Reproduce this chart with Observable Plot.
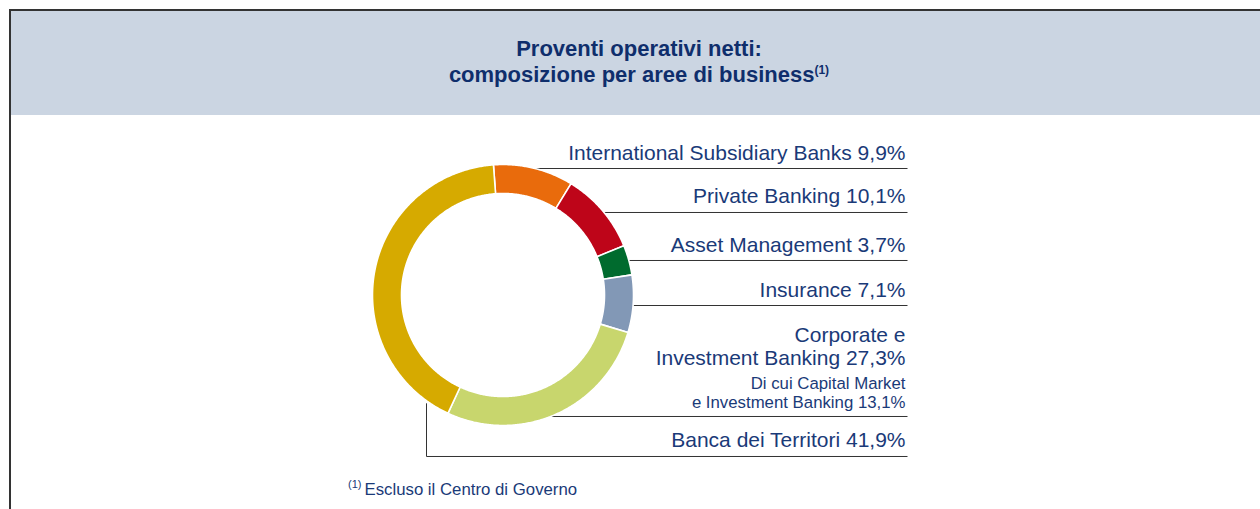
<!DOCTYPE html>
<html>
<head>
<meta charset="utf-8">
<script src="https://cdn.jsdelivr.net/npm/d3@7"></script>
<script src="https://cdn.jsdelivr.net/npm/@observablehq/plot@0.6"></script>
<style>
  body { margin: 0; background: #fff; font-family: "Liberation Sans", Arial, sans-serif; }
  #page { position: relative; width: 1260px; height: 509px; overflow: hidden; background: #fff; }
  #frame { position: absolute; left: 9px; top: 9px; width: 1400px; height: 700px;
           border-left: 2px solid #333; border-top: 2px solid #333; }
  #header { position: absolute; left: 11px; top: 11px; width: 1256px; height: 104px;
            background: #cbd5e2; color: #0f2e6c; font-weight: bold; font-size: 22px;
            text-align: center; line-height: 26.6px; padding-top: 24.8px; box-sizing: border-box; }
  #header sup { font-size: 12px; vertical-align: baseline; position: relative; top: -8px; }
  #chart { position: absolute; left: 0; top: 115px; }
  #note { position: absolute; left: 348px; top: 480px; font-size: 16.8px; line-height: 20px; color: #1a3a78; white-space: nowrap; }
  #note sup { font-size: 11px; vertical-align: baseline; position: relative; top: -7px; margin-right: 3px; }
</style>
</head>
<body>
<div id="page">
  <div id="frame"></div>
  <div id="header">
    <div>Proventi operativi netti:</div>
    <div>composizione per aree di business<sup>(1)</sup></div>
  </div>
  <div id="chart"></div>
  <div id="note"><sup>(1)</sup>Escluso il Centro di Governo</div>
</div>
<script>
// ---- data ----
const segments = [
  "International Subsidiary Banks",
  "Private Banking",
  "Asset Management",
  "Insurance",
  "Corporate e\nInvestment Banking",
  "Banca dei Territori"
];
const shares = [9.9, 10.1, 3.7, 7.1, 27.3, 41.9];
const shareLabels = ["9,9%", "10,1%", "3,7%", "7,1%", "27,3%", "41,9%"];
const subNote = "Di cui Capital Market\ne Investment Banking 13,1%";

// ---- styles / layout ----
const palette = ["#e96b0c", "#be0519", "#006b2e", "#8298b6", "#c8d66d", "#d6aa00"];
const textColor = "#1a3a78";
const unit = 130.5;                 // px per unit radius
const innerR = 101.5 / 130.5;       // inner radius (outer = 1)
const startDeg = -4.2;              // start angle, clockwise from 12 o'clock
const W = 1260, H = 394;
const cx = 502.5, cy = 179.5;       // donut centre in svg px
const rowY = [0.9693, 0.6322, 0.2644, -0.0805, -0.9310, -1.2375]; // leader rows (unit coords)
const rowLift = [8.5, 9.2, 8.4, 8.4, 51, 9.3];                  // px from leader row up to last baseline
const subLift = 8.7;
const textX = (905 - cx) / unit;
const lineEndX = (907 - cx) / unit;
const lastElbowX = (426 - cx) / unit;
const lastElbowTop = -0.83;

// ---- derived ----
const total = d3.sum(shares);
const cum = d3.cumsum(shares);
const arcs = shares.map((v, i) => {
  const a0 = (startDeg + ((cum[i] - v) / total) * 360) * Math.PI / 180;
  const a1 = (startDeg + (cum[i] / total) * 360) * Math.PI / 180;
  const n = Math.max(2, Math.ceil((a1 - a0) / (Math.PI / 360)));
  const pts = [];
  for (let k = 0; k <= n; k++) { const a = a0 + (a1 - a0) * k / n; pts.push({x: Math.sin(a), y: Math.cos(a)}); }
  for (let k = n; k >= 0; k--) { const a = a0 + (a1 - a0) * k / n; pts.push({x: innerR * Math.sin(a), y: innerR * Math.cos(a)}); }
  pts.push(pts[0]);
  return pts;
});

const rows = segments.map((s, i) => {
  const y = rowY[i];
  const last = i === segments.length - 1;
  return {
    label: `${s} ${shareLabels[i]}`,
    y,
    ty: y + rowLift[i] / unit,
    x1: last ? lastElbowX : Math.sqrt(Math.max(0, 1 - y * y)),
    x2: lineEndX
  };
});
const elbow = [{x: lastElbowX, y1: lastElbowTop, y2: rowY[rowY.length - 1]}];
const subRows = [{text: subNote, ty: rowY[4] + subLift / unit}];

const chart = Plot.plot({
  width: W, height: H,
  margin: 0,
  x: {domain: [-cx / unit, (W - cx) / unit], axis: null},
  y: {domain: [-(H - cy) / unit, cy / unit], axis: null},
  style: {fontFamily: "'Liberation Sans', Arial, sans-serif", background: "transparent", overflow: "visible"},
  marks: [
    Plot.link(rows, {x1: "x1", x2: "x2", y1: "y", y2: "y", stroke: "#333", strokeWidth: 1}),
    Plot.link(elbow, {x1: "x", x2: "x", y1: "y1", y2: "y2", stroke: "#333", strokeWidth: 1}),
    ...arcs.map((pts, i) => Plot.line(pts, {x: "x", y: "y", fill: palette[i], stroke: "white", strokeWidth: 1.6, strokeLinejoin: "round"})),
    Plot.text(rows, {x: () => textX, y: "ty", text: "label", textAnchor: "end", lineAnchor: "bottom",
      fontSize: 21, lineHeight: 1.11, fill: textColor}),
    Plot.text(subRows, {x: () => textX, y: "ty", text: "text", textAnchor: "end", lineAnchor: "bottom",
      fontSize: 16.8, lineHeight: 1.13, fill: textColor})
  ]
});
document.getElementById("chart").appendChild(chart);
</script>
</body>
</html>
